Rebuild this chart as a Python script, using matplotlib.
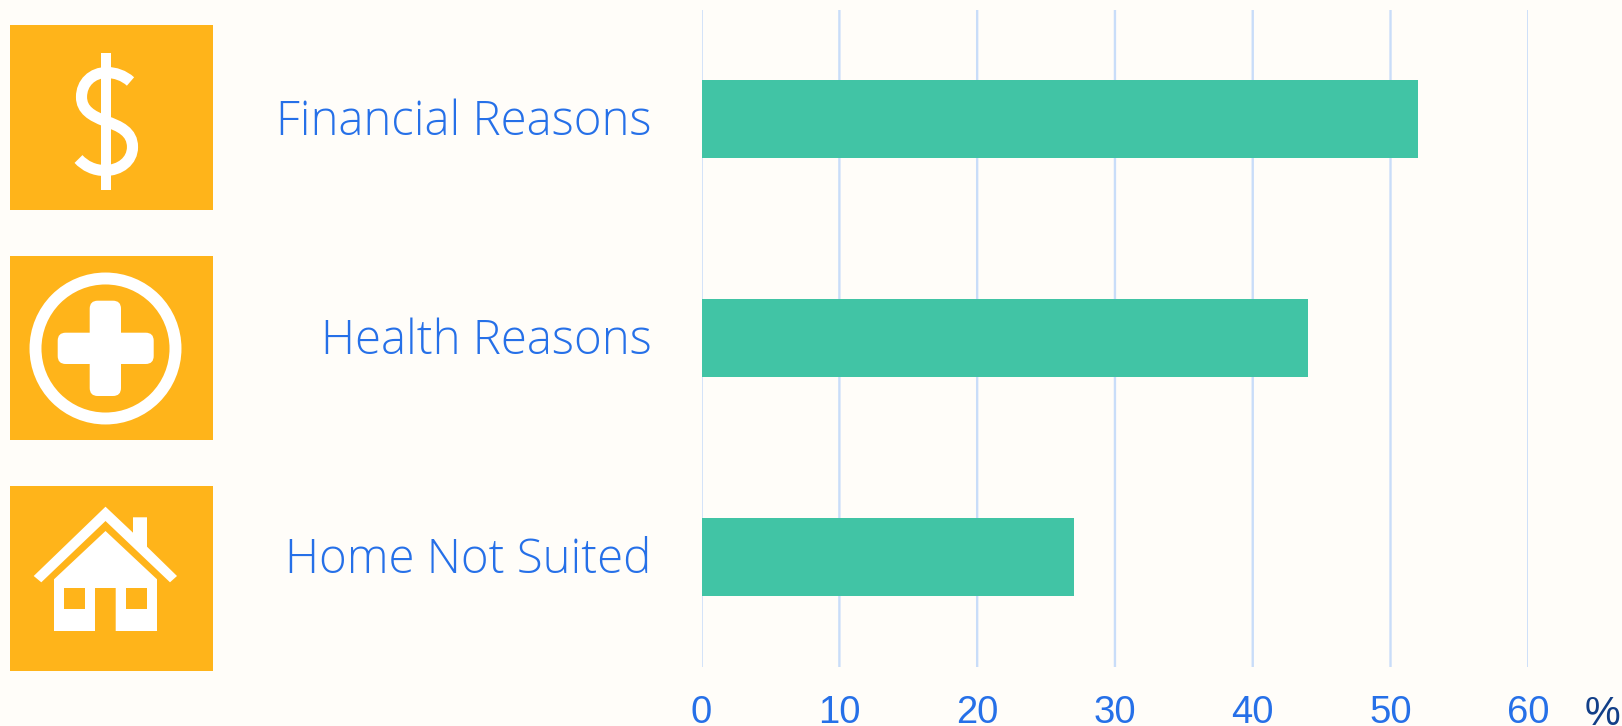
import matplotlib
matplotlib.use("Agg")
import matplotlib.pyplot as plt
import matplotlib.patches as patches
from matplotlib.path import Path

W, H = 1622, 726

categories = ["Financial Reasons", "Health Reasons", "Home Not Suited"]
values = [52, 44, 27]
x_ticks = [0, 10, 20, 30, 40, 50, 60]

BG = "#FFFDF9"
ORANGE = "#FFB41A"
GREEN = "#41C4A5"
GRID = "#C9DDF9"
BLUE = "#2670E8"
NAVY = "#123F88"

fig = plt.figure(figsize=(W / 100, H / 100), dpi=100, facecolor=BG)

# Chart
ax = fig.add_axes([701.6 / W, 1 - 666.5 / H, (1528.3 - 701.6) / W, 657 / H], facecolor=BG)
ypos = list(range(len(categories)))
ax.barh(ypos, values, height=0.356, color=GREEN, zorder=3)
ax.set_xlim(0, 60)
ax.set_ylim(2.5, -0.5)
ax.set_xticks(x_ticks)
ax.set_yticks(ypos)
ax.set_yticklabels([])
ax.tick_params(axis="y", length=0)
ax.tick_params(axis="x", length=0, pad=20.3, labelsize=27.5, labelcolor=BLUE)
for lab in ax.get_xticklabels():
    lab.set_fontfamily("Liberation Sans")
ax.grid(axis="x", color=GRID, linewidth=1.7, zorder=0)
for line in ax.get_xgridlines():
    line.set_snap(False)
ax.set_axisbelow(True)
for s in ax.spines.values():
    s.set_visible(False)

# Category labels, offset from the axis in points
for y, name in zip(ypos, categories):
    ax.annotate(name, xy=(0, y), xycoords=("data", "data"), xytext=(-36, -2.6), textcoords="offset points",
                ha="right", va="center", fontfamily="Open Sans", fontweight="light", fontsize=34.1, color=BLUE)

# Icons, drawn in pixel coordinates of the figure
ov = fig.add_axes([0, 0, 1, 1], facecolor="none")
ov.set_xlim(0, W)
ov.set_ylim(H, 0)
ov.axis("off")

for top, bottom in [(25, 210), (256, 440), (486, 671)]:
    ov.add_patch(patches.Rectangle((10, top), 203, bottom - top, color=ORANGE, lw=0))

ov.text(1602, 714, "%", fontfamily="Liberation Sans", fontsize=29, color=NAVY, ha="center", va="center")

# dollar
verts = [(130.5, 81.5), (124, 75.5), (115, 72.5), (107, 72.5),
         (92, 72.5), (81.5, 83), (81.5, 97),
         (81.5, 110), (92, 116), (105, 121),
         (120, 126), (132.5, 132), (132.5, 147),
         (132.5, 161), (120, 170.5), (105, 170.5),
         (94, 170.5), (85, 166), (78.5, 159)]
codes = [Path.MOVETO] + [Path.CURVE4] * 18
ov.add_patch(patches.PathPatch(Path(verts, codes), fill=False, ec="white", lw=8, capstyle="butt"))
ov.add_patch(patches.Rectangle((101, 53), 9.5, 137, color="white", lw=0))

# health
ov.add_patch(patches.Circle((105.5, 348.5), 70, fill=False, ec="white", lw=8.6))
ov.add_patch(patches.FancyBboxPatch((89.7, 300.7), 31.3, 95.3, boxstyle="round,pad=0,rounding_size=8", color="white", lw=0))
ov.add_patch(patches.FancyBboxPatch((57.7, 332.7), 96, 31.3, boxstyle="round,pad=0,rounding_size=8", color="white", lw=0))

# house
roof = [(105.5, 506.7), (133, 532.7), (133, 517.3), (147, 517.3), (147, 546.7), (177, 576),
        (170, 582.3), (105.5, 521), (41.3, 582.3), (33.7, 576)]
body = [(105.5, 531), (157, 579.3), (157, 631), (115.7, 631), (115.7, 588), (95, 588),
        (95, 631), (54, 631), (54, 579.3)]
ov.add_patch(patches.Polygon(roof, closed=True, color="white", lw=0))
ov.add_patch(patches.Polygon(body, closed=True, color="white", lw=0))
ov.add_patch(patches.Rectangle((64, 588), 20.7, 20.7, color=ORANGE, lw=0))
ov.add_patch(patches.Rectangle((126, 588), 21, 20.7, color=ORANGE, lw=0))

fig.savefig("out.png", dpi=100, facecolor=BG)
